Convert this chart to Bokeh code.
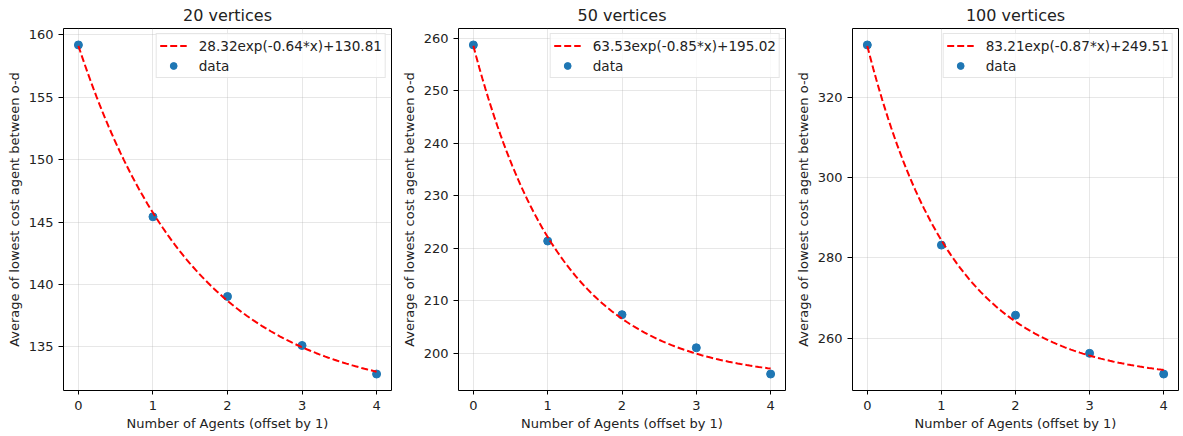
import numpy as np
from bokeh.plotting import figure
from bokeh.layouts import row
from bokeh.models import Range1d, FixedTicker, Legend, LegendItem
from bokeh.embed import file_html
from bokeh.resources import INLINE

# ---- data ----
agents = [0, 1, 2, 3, 4]
cost_20 = [159.2, 145.42, 139.03, 135.1, 132.81]
cost_50 = [258.7, 221.4, 207.4, 201.1, 196.1]
cost_100 = [333.0, 283.15, 265.7, 256.2, 251.04]
# fitted parameters a*exp(b*x)+c, as printed in the legends
fit_20 = [28.32, -0.64, 130.81]
fit_50 = [63.53, -0.85, 195.02]
fit_100 = [83.21, -0.87, 249.51]
titles = ["20 vertices", "50 vertices", "100 vertices"]
x_ticks = [0, 1, 2, 3, 4]
y_ticks_20 = [135, 140, 145, 150, 155, 160]
y_ticks_50 = [200, 210, 220, 230, 240, 250, 260]
y_ticks_100 = [260, 280, 300, 320]

FONT = "DejaVu Sans"
TXT = "#222222"


def make_panel(title, ydata, fit, yticks, width, bl, br):
    a, b, c = fit
    xs = np.linspace(min(agents), max(agents), 100)
    ys = a * np.exp(b * xs) + c

    xmin, xmax = min(agents), max(agents)
    xpad = 0.05 * (xmax - xmin)
    ymin = min(min(ydata), ys.min())
    ymax = max(max(ydata), ys.max())
    ypad = 0.05 * (ymax - ymin)

    p = figure(width=width, height=435, output_backend="svg", toolbar_location=None,
               x_range=Range1d(xmin - xpad, xmax + xpad),
               y_range=Range1d(ymin - ypad, ymax + ypad),
               min_border_left=bl, min_border_right=br,
               min_border_top=28, min_border_bottom=45,
               background_fill_color="white", border_fill_color="white")
    p.outline_line_color = "black"
    p.outline_line_width = 1
    p.outline_line_alpha = 1

    p.title.text = title
    p.title.align = "center"
    p.title.text_font = FONT
    p.title.text_font_size = "16px"
    p.title.text_font_style = "normal"
    p.title.text_color = TXT
    p.title.standoff = 7

    p.xaxis.ticker = FixedTicker(ticks=x_ticks)
    p.yaxis.ticker = FixedTicker(ticks=yticks)
    p.xaxis.axis_label = "Number of Agents (offset by 1)"
    p.yaxis.axis_label = "Average of lowest cost agent between o-d"
    for ax in (p.xaxis, p.yaxis):
        ax.axis_line_color = None
        ax.major_tick_line_color = "black"
        ax.major_tick_in = 0
        ax.minor_tick_line_color = None
        ax.major_label_text_font = FONT
        ax.major_label_text_font_size = "13px"
        ax.major_label_text_color = TXT
        ax.axis_label_text_font = FONT
        ax.axis_label_text_font_size = "13px"
        ax.axis_label_text_font_style = "normal"
        ax.axis_label_text_color = TXT
    p.xaxis.major_tick_out = 4
    p.xaxis.major_label_standoff = 6
    p.xaxis.axis_label_standoff = 3
    p.yaxis.major_tick_out = 5
    p.yaxis.major_label_standoff = 5
    p.yaxis.axis_label_standoff = 4

    p.grid.grid_line_color = "#b0b0b0"
    p.grid.grid_line_alpha = 0.3
    p.grid.grid_line_width = 1

    sc = p.scatter(agents, ydata, size=8, color="#1f77b4")
    ln = p.line(xs, ys, line_color="red", line_width=2, line_dash="7 3")

    label = f"{a:.2f}exp({b:.2f}*x)+{c:.2f}"
    legend = Legend(items=[LegendItem(label=label, renderers=[ln]),
                           LegendItem(label="data", renderers=[sc])],
                    location="top_right")
    legend.margin = 5
    legend.padding = 3
    legend.spacing = 3
    legend.label_height = 17
    legend.glyph_height = 17
    legend.glyph_width = 27
    legend.label_standoff = 12
    legend.label_text_font = FONT
    legend.label_text_font_size = "13.6px"
    legend.label_text_color = TXT
    legend.background_fill_alpha = 0.8
    legend.border_line_color = "#cccccc"
    legend.border_line_width = 1
    p.add_layout(legend)
    return p


p1 = make_panel(titles[0], cost_20, fit_20, y_ticks_20, 398, 63, 7)
p2 = make_panel(titles[1], cost_50, fit_50, y_ticks_50, 394, 59, 7)
p3 = make_panel(titles[2], cost_100, fit_100, y_ticks_100, 390, 59, 4)

layout = row(p1, p2, p3)
open("out.html", "w").write(file_html(layout, INLINE))
